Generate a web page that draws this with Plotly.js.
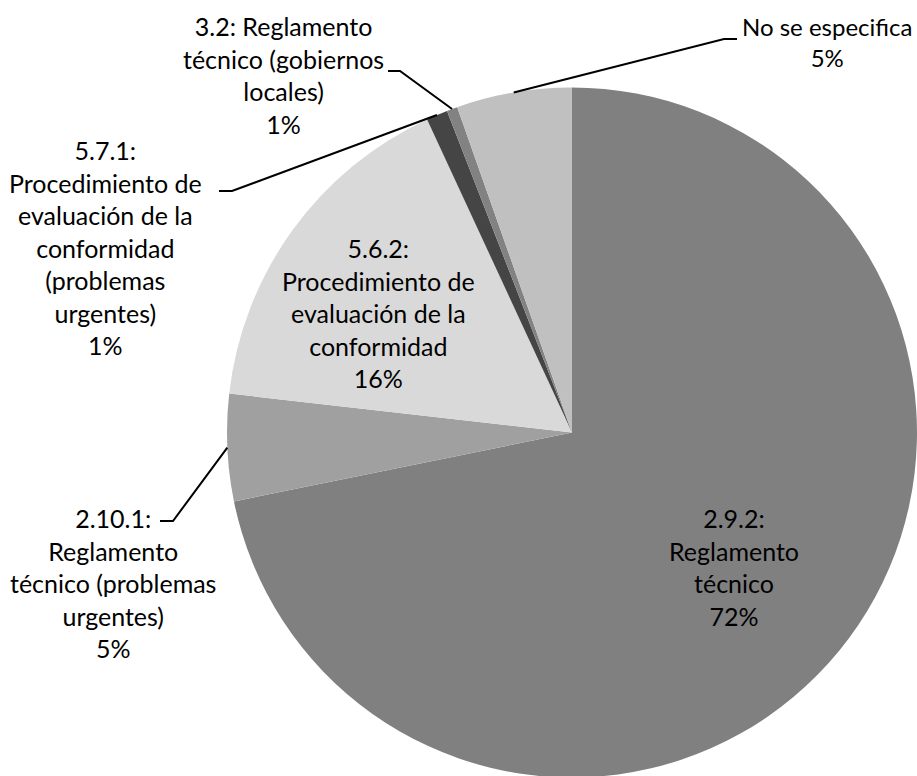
<!DOCTYPE html>
<html>
<head>
<meta charset="utf-8">
<script src="https://cdn.plot.ly/plotly-3.0.1.min.js"></script>
<style>
html,body{margin:0;padding:0;overflow:hidden;background:#fff;}
#chart{width:920px;height:780px;}
</style>
</head>
<body>
<div id="chart"></div>
<script>
// ---- data ----
var categories = [
  "2.9.2: Reglamento técnico",
  "2.10.1: Reglamento técnico (problemas urgentes)",
  "5.6.2: Procedimiento de evaluación de la conformidad",
  "5.7.1: Procedimiento de evaluación de la conformidad (problemas urgentes)",
  "3.2: Reglamento técnico (gobiernos locales)",
  "No se especifica"
];
var values = [71.8, 5.0, 16.3, 1.0, 0.5, 5.4];
var wrappedLabels = [
  "2.9.2:<br>Reglamento<br>técnico",
  "2.10.1:<br>Reglamento<br>técnico (problemas<br>urgentes)",
  "5.6.2:<br>Procedimiento de<br>evaluación de la<br>conformidad",
  "5.7.1:<br>Procedimiento de<br>evaluación de la<br>conformidad<br>(problemas<br>urgentes)",
  "3.2: Reglamento<br>técnico (gobiernos<br>locales)",
  "No se especifica"
];
var colors = ["#808080", "#a0a0a0", "#d9d9d9", "#454545", "#828282", "#c0c0c0"];

// ---- layout geometry (pixels) ----
var W = 920, H = 780;
var CX = 572, CY = 432.5, R = 345;
// label block centres, font sizes, and leader-line start / elbow points (null = inside label)
var labelPos = [[734, 567], [113, 583], [378, 313], [105, 248], [283, 75], [827, 42]];
var labelSize = [25, 25, 25, 25, 25, 24];
var leaders = [null, {start: [160, 521], elbow: [173, 521]}, null,
  {start: [219, 191], elbow: [232, 191]},
  {start: [388, 71], elbow: [400, 71]},
  {start: [737, 39], elbow: [724, 39]}];

function px(x) { return x / W; }
function py(y) { return 1 - y / H; }

var total = values.reduce(function (a, b) { return a + b; }, 0);
var annotations = [], shapes = [];
var cum = 0;
for (var i = 0; i < values.length; i++) {
  var mid = (cum + values[i] / 2) / total * 2 * Math.PI;
  cum += values[i];
  var pct = Math.round(values[i] * 100 / total) + "%";
  annotations.push({
    xref: "paper", yref: "paper",
    x: px(labelPos[i][0]), y: py(labelPos[i][1]),
    xanchor: "center", yanchor: "middle", align: "center",
    showarrow: false,
    text: wrappedLabels[i] + "<br>" + pct,
    font: {family: "Lato, 'Open Sans', sans-serif", size: labelSize[i], color: "#000"}
  });
  if (leaders[i]) {
    var rx = CX + R * Math.sin(mid), ry = CY - R * Math.cos(mid);
    var L = leaders[i];
    shapes.push({
      type: "path", xref: "paper", yref: "paper",
      path: "M " + px(L.start[0]) + " " + py(L.start[1]) +
            " L " + px(L.elbow[0]) + " " + py(L.elbow[1]) +
            " L " + px(rx) + " " + py(ry),
      line: {color: "#000", width: 2}
    });
  }
}

var trace = {
  type: "pie",
  labels: categories,
  values: values,
  sort: false,
  direction: "clockwise",
  rotation: 0,
  textinfo: "none",
  hoverinfo: "none",
  marker: {colors: colors, line: {width: 0}},
  domain: {x: [(CX - R) / W, (CX + R) / W], y: [py(CY + R), py(CY - R)]},
  showlegend: false
};

Plotly.newPlot("chart", [trace], {
  width: W, height: H,
  margin: {l: 0, r: 0, t: 0, b: 0},
  paper_bgcolor: "#fff",
  showlegend: false,
  annotations: annotations,
  shapes: shapes
}, {staticPlot: true});
</script>
</body>
</html>
